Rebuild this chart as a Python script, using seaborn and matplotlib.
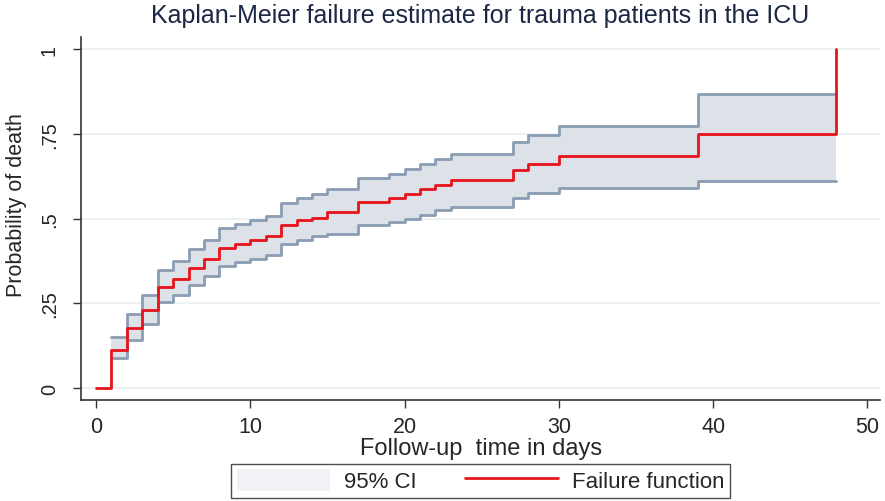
import numpy as np
import pandas as pd
import seaborn as sns
import matplotlib.pyplot as plt
from matplotlib.patches import Patch
from matplotlib.lines import Line2D

sns.set_style("white")
plt.rcParams['font.family'] = ['Liberation Sans', 'DejaVu Sans']

# Kaplan-Meier failure estimate
days = [0, 1, 2, 3, 4, 5, 6, 7, 8, 9, 10, 11, 12, 13, 14, 15, 17, 19, 20, 21, 22, 23, 27, 28, 30, 39, 48]
failure = [0.0, 0.114, 0.177, 0.230, 0.297, 0.323, 0.354, 0.381, 0.414, 0.425, 0.437, 0.448, 0.482,
           0.497, 0.503, 0.520, 0.548, 0.560, 0.572, 0.586, 0.599, 0.613, 0.643, 0.661, 0.684, 0.750, 1.0]

# 95% CI (defined from day 1 to day 48)
ci_days = [1, 2, 3, 4, 5, 6, 7, 8, 9, 10, 11, 12, 13, 14, 15, 17, 19, 20, 21, 22, 23, 27, 28, 30, 39, 48]
ci_upper = [0.151, 0.218, 0.275, 0.348, 0.376, 0.409, 0.437, 0.472, 0.484, 0.496, 0.509, 0.547, 0.560,
            0.573, 0.588, 0.619, 0.632, 0.647, 0.661, 0.676, 0.690, 0.726, 0.747, 0.773, 0.868, 0.868]
ci_lower = [0.088, 0.142, 0.190, 0.253, 0.275, 0.304, 0.331, 0.361, 0.371, 0.381, 0.393, 0.425, 0.438,
            0.449, 0.456, 0.482, 0.489, 0.499, 0.510, 0.524, 0.535, 0.562, 0.576, 0.591, 0.610, 0.610]

km = pd.DataFrame({"t": days, "failure": failure})
ci = pd.DataFrame({"t": ci_days, "upper": ci_upper, "lower": ci_lower})

band_col = "#dde1e8"
edge_col = "#8a9db4"
red = "#e8131b"

fig = plt.figure(figsize=(8.85, 5.02), dpi=100)
ax = fig.add_axes([0.0915, 0.2018, 0.9025, 0.7222])

ax.fill_between(ci["t"], ci["lower"], ci["upper"], step="post", color=band_col, lw=0, zorder=2)
sns.lineplot(data=ci, x="t", y="upper", drawstyle="steps-post", color=edge_col, lw=2, ax=ax, zorder=3)
sns.lineplot(data=ci, x="t", y="lower", drawstyle="steps-post", color=edge_col, lw=2, ax=ax, zorder=3)
sns.lineplot(data=km, x="t", y="failure", drawstyle="steps-post", color=red, lw=2, ax=ax, zorder=4)

ax.set_xlim(-0.97, 50.8)
ax.set_ylim(-0.034, 1.035)
ax.set_xticks([0, 10, 20, 30, 40, 50])
ax.set_yticks([0, 0.25, 0.5, 0.75, 1])
ax.set_yticklabels(["0", ".25", ".5", ".75", "1"], rotation=90, va="center")
ax.tick_params(axis="both", direction="out", length=6, width=1, color="#333333",
               bottom=True, left=True)
ax.tick_params(axis="x", pad=6, labelsize=15.5)
ax.tick_params(axis="y", pad=10, labelsize=14.5)
ax.grid(axis="y", color="#e9f0f2", lw=1.2, zorder=0)
ax.grid(axis="x", visible=False)
for s in ["top", "right"]:
    ax.spines[s].set_visible(False)
for s in ["left", "bottom"]:
    ax.spines[s].set_color("#333333")
    ax.spines[s].set_linewidth(1.2)

ax.set_xlabel("Follow-up  time in days", fontsize=17)
ax.xaxis.set_label_coords((481 - 81) / 799, -(449 - 400.7) / 362.5)
ax.xaxis.label.set_va("center")
ax.set_ylabel("Probability of death", fontsize=15.5)
ax.yaxis.set_label_coords(-(81 - 16) / 799, (400.7 - 205) / 362.5)
ax.yaxis.label.set_va("center")
ax.set_title("Kaplan-Meier failure estimate for trauma patients in the ICU",
             fontsize=18, color="#1c2745", pad=11)

handles = [Patch(facecolor="#f1f2f5", edgecolor="none"), Line2D([], [], color=red, lw=2)]
leg = fig.legend(handles, ["95% CI", "Failure function"], ncol=2, loc="lower center",
                 bbox_to_anchor=(0.543, 0.006), frameon=True, fancybox=False,
                 fontsize=16, handlelength=4.2, handleheight=1.1, handletextpad=0.6,
                 columnspacing=2.2, borderpad=0.25, borderaxespad=0.0)
leg.get_frame().set_edgecolor("#222222")
leg.get_frame().set_linewidth(1)

fig.savefig("out.png", dpi=100)
